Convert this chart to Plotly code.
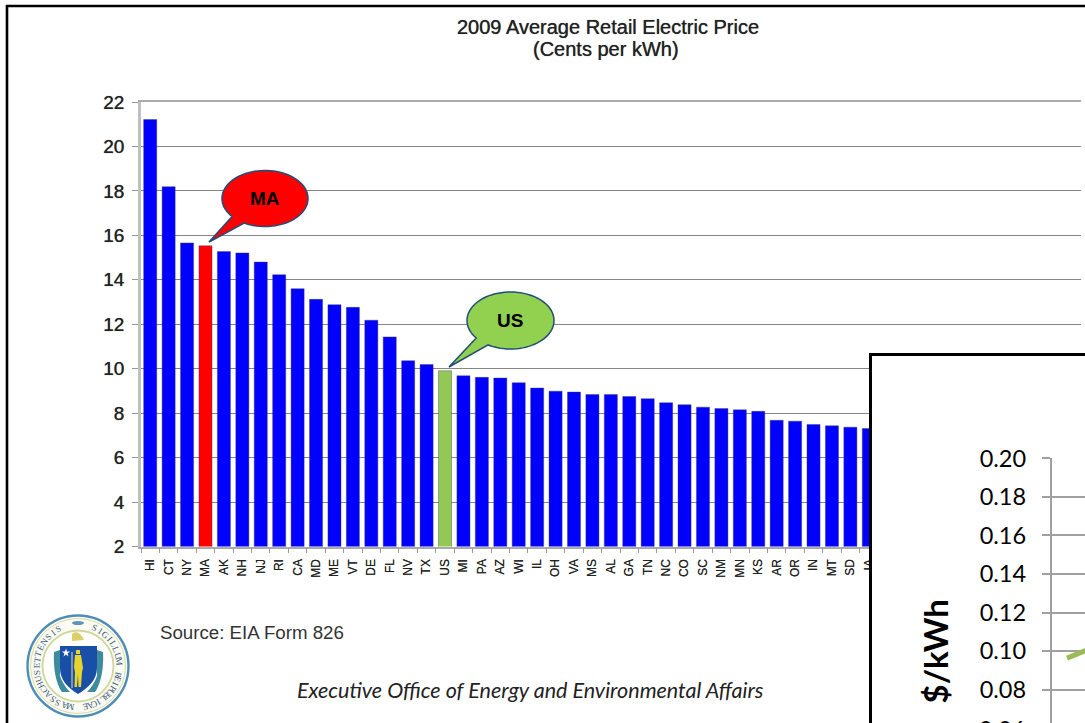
import re
import numpy as np
import plotly.graph_objects as go

W, H = 1085, 723

states = ["HI","CT","NY","MA","AK","NH","NJ","RI","CA","MD","ME","VT","DE","FL","NV","TX","US","MI","PA","AZ",
          "WI","IL","OH","VA","MS","AL","GA","TN","NC","CO","SC","NM","MN","KS","AR","OR","IN","MT","SD","IA"]
prices = [21.21,18.19,15.66,15.53,15.27,15.21,14.80,14.23,13.60,13.12,12.88,12.76,12.18,11.43,10.36,10.19,9.91,9.68,9.61,9.58,
          9.37,9.13,8.99,8.95,8.84,8.84,8.75,8.65,8.47,8.38,8.27,8.21,8.15,8.08,7.68,7.64,7.49,7.43,7.37,7.31]
y_ticks = [2,4,6,8,10,12,14,16,18,20,22]
inset_ticks = [0.08,0.10,0.12,0.14,0.16,0.18,0.20]
inset_x = [0, 1]
inset_y = [0.0964, 0.1036]

BLUE, RED, GREEN = "#0000FF", "#FF0000", "#92C853"
colors = [RED if s == "MA" else GREEN if s == "US" else BLUE for s in states]
ARIAL = "Liberation Sans, Arial, sans-serif"
CAL = "Lato, Carlito, sans-serif"
SOFT = "0 0 0.8px #444"

def fx(x): return x / W
def fy(y): return 1 - y / H
def pth(s):
    return re.sub(r'(-?[\d.]+),(-?[\d.]+)', lambda m: f"{float(m[1])/W:.5f},{1-float(m[2])/H:.5f}", s)

def bubble(cx, cy, rx, ry, a0, a1, tip):
    a = np.radians(np.linspace(a0, a1, 80))
    pts = [f"{cx+rx*np.cos(t):.2f},{cy+ry*np.sin(t):.2f}" for t in a]
    return pth("M" + " L".join(pts) + f" L{tip[0]},{tip[1]} Z")

def ell(cx, cy, rx, ry, **kw):
    return dict(type="circle", xref="paper", yref="paper", x0=fx(cx-rx), x1=fx(cx+rx),
                y0=fy(cy+ry), y1=fy(cy-ry), **kw)

fig = go.Figure()
fig.add_trace(go.Bar(x=states, y=prices, marker=dict(color=colors, line=dict(color="#3a3a60", width=0.4)),
                     xaxis="x", yaxis="y", showlegend=False, hoverinfo="x+y"))
fig.add_trace(go.Scatter(x=[], y=[], xaxis="x2", yaxis="y2", showlegend=False, hoverinfo="skip"))
fig.add_trace(go.Scatter(x=inset_x, y=inset_y, mode="lines", xaxis="x3", yaxis="y3", showlegend=False,
                         line=dict(color="#9BBB59", width=5)))

shapes = [
    dict(type="line", xref="paper", yref="paper", x0=fx(6), x1=1, y0=fy(6), y1=fy(6), line=dict(color="#000", width=2.6)),
    dict(type="line", xref="paper", yref="paper", x0=fx(7), x1=fx(7), y0=fy(5), y1=0, line=dict(color="#000", width=2.6)),
    dict(type="path", xref="paper", yref="paper", path=bubble(265, 198.5, 43, 28, 140, 479, (209, 242)),
         fillcolor="#FF0000", line=dict(color="#1F4E79", width=1.5)),
    dict(type="path", xref="paper", yref="paper", path=bubble(510.5, 320.5, 43.5, 28.5, 142, 481, (449, 367)),
         fillcolor="#92D050", line=dict(color="#1F4E79", width=1.5)),
]

# Commonwealth seal, drawn as simple vector shapes
sx, sy = 78, 666
shapes += [
    ell(sx, sy, 50.5, 50.5, fillcolor="#FBFBF4", line=dict(color="#4E8DB8", width=2.4)),
    ell(sx, sy, 47.5, 47.5, fillcolor="rgba(0,0,0,0)", line=dict(color="#D9DE9E", width=1)),
    ell(sx, sy, 35.5, 35.5, fillcolor="#FFFFFF", line=dict(color="#CFD89A", width=1.8)),
    ell(78, 623, 6, 2, fillcolor="#5B93BB", line=dict(width=0)),
]
seal_paths = [
    ("M72,634 C76,630 81,633 84,640 L72,641 Z", "#DCCF6A"),
    ("M54,652 L60,650 L60,676 C62,682 66,688 70,692 L62,692 C56,684 53,668 54,652 Z", "#3D8C9E"),
    ("M103,652 L97,650 L97,676 C95,682 91,688 87,692 L95,692 C101,684 104,668 103,652 Z", "#3D8C9E"),
    ("M60,646 L97,646 L97,668 C97,680 88,688 78,694 C68,688 60,680 60,668 Z", "#1A4FA8"),
    ("M75,655 L81,655 L83,668 L82,672 L81,687 L78.5,687 L78,674 L77,687 L74.5,687 L75,672 L74,667 Z", "#E8D42A"),
    ("M76,650 L80,650 L80,654 L76,654 Z", "#E8D42A"),
    ("M71.5,652 L72.5,652 L72.5,688 L71.5,688 Z", "#E4E0A0"),
    ("M66,648.5 L67,651.5 L70,651.5 L67.6,653.4 L68.5,656.4 L66,654.6 L63.5,656.4 L64.4,653.4 L62,651.5 L65,651.5 Z", "#FFFFFF"),
]
for p, c in seal_paths:
    shapes.append(dict(type="path", xref="paper", yref="paper", path=pth(p), fillcolor=c, line=dict(width=0)))

def txt(x, y, s, size, color="#222", font=ARIAL, xa="center", shadow=None, **kw):
    f = dict(family=font, size=size, color=color)
    if shadow:
        f["shadow"] = shadow
    return dict(xref="paper", yref="paper", x=fx(x), y=fy(y), text=s, showarrow=False, xanchor=xa, yanchor="middle",
                font=f, **kw)

ann = [
    txt(608, 27, "2009 Average Retail Electric Price", 20, shadow=SOFT),
    txt(606, 49.5, "(Cents per kWh)", 20, shadow=SOFT),
    txt(264.5, 198, "<b>MA</b>", 19, "#000"),
    txt(510.5, 320, "<b>US</b>", 19, "#000"),
    txt(158, 632, "Source: EIA Form 826", 18.7, "#333", xa="left"),
    txt(295, 690, "<i>Executive Office of Energy and Environmental Affairs</i>", 21.5, "#222", CAL, xa="left"),
    txt(934, 651.5, "<b>$/kWh</b>", 33, "#000", CAL, textangle=-90),
    txt(1027, 728.5, "0.06", 23.5, "#000", CAL, xa="right"),
]
for word, start, step in [("SIGILLUM", 24, 8.6), ("REIPUBLICAE", 102, 6.8), ("MASSACHUSETTENSIS", 191, 8.8)]:
    for i, ch in enumerate(word):
        a = start + i * step
        r = np.radians(a)
        ann.append(txt(sx + 41.5*np.sin(r), sy - 41.5*np.cos(r), ch, 9, "#3F5F78", "Liberation Serif, serif", textangle=a))

fig.update_layout(
    width=W, height=H, autosize=False,
    margin=dict(l=0, r=0, t=0, b=0, autoexpand=False),
    paper_bgcolor="#FFFFFF", plot_bgcolor="#FFFFFF",
    bargap=0.29, showlegend=False,
    shapes=shapes, annotations=ann,
    xaxis=dict(domain=[fx(141), fx(1080.7)], type="category", categoryorder="array", categoryarray=states,
               range=[-0.5, 50.5], tickson="boundaries", ticks="outside", ticklen=5, tickcolor="#999", tickwidth=1,
               tickangle=-90, tickfont=dict(family=ARIAL, size=12, color="#222", shadow="0 0 0.5px #555"), showgrid=False,
               showline=True, mirror=True, linecolor="#AAAAAA", linewidth=1.5, anchor="y", ticklabelstandoff=6, tickmode="linear", dtick=1),
    yaxis=dict(domain=[fy(546.5), fy(102)], range=[2, 22], tickvals=y_ticks, ticks="outside", ticklen=6,
               tickcolor="#999", tickwidth=1, tickfont=dict(family=ARIAL, size=19, color="#222", shadow=SOFT),
               showgrid=True, gridcolor="#858585", gridwidth=1.2, zeroline=False,
               showline=True, linecolor="#C0C0C0", linewidth=2.5, anchor="x", ticklabelstandoff=4),
    xaxis2=dict(domain=[fx(872), 1], range=[0, 1], anchor="y2", side="top", showline=True, linecolor="#000",
                linewidth=2.6, showticklabels=False, ticks="", showgrid=False, zeroline=False),
    yaxis2=dict(domain=[0, fy(356)], range=[0, 1], anchor="x2", side="left", showline=True, linecolor="#000",
                linewidth=2.6, showticklabels=False, ticks="", showgrid=False, zeroline=False),
    xaxis3=dict(domain=[fx(1051.7), 1], range=[-0.46, 0.54], anchor="y3", visible=False),
    yaxis3=dict(domain=[0, fy(458.3)], range=[0.0628, 0.20], anchor="x3", tickvals=inset_ticks, tickformat=".2f",
                ticks="outside", ticklen=8, tickcolor="#A0A0A0", tickwidth=1.8,
                tickfont=dict(family=CAL, size=23.5, color="#000"), showgrid=True, gridcolor="#A0A0A0", gridwidth=1.8,
                zeroline=False, showline=True, linecolor="#A0A0A0", linewidth=1.8, ticklabelstandoff=11),
)
fig.write_html("out.html", config={"displayModeBar": False},
               post_script="document.body.style.margin='0';document.body.style.overflow='hidden';")
